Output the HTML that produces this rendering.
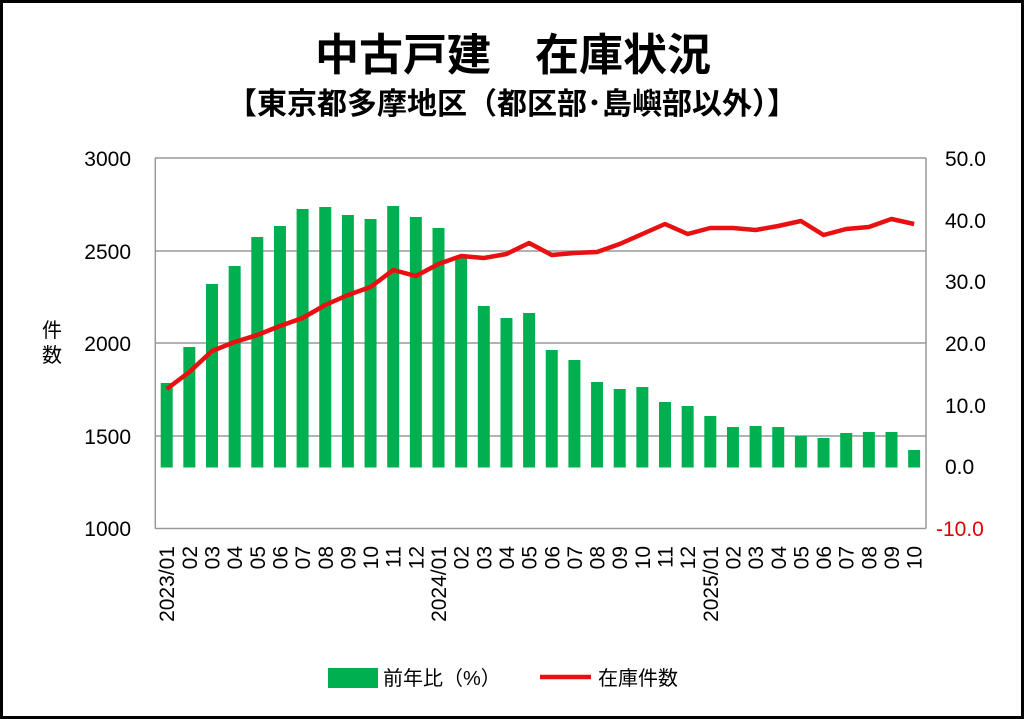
<!DOCTYPE html>
<html><head><meta charset="utf-8"><style>
html,body{margin:0;padding:0;background:#fff}
svg{display:block}
text{font-family:"Liberation Sans","Noto Sans CJK JP",sans-serif}
</style></head><body>
<svg width="1024" height="719" viewBox="0 0 1024 719" xmlns="http://www.w3.org/2000/svg">
<rect x="1.5" y="1.5" width="1021" height="716" fill="#fff" stroke="#000" stroke-width="3"/>
<text x="513" y="70" text-anchor="middle" font-size="44" font-weight="bold" font-family="'Noto Sans CJK JP',sans-serif">中古戸建　在庫状況</text>
<text x="512" y="114" text-anchor="middle" font-size="30" font-weight="bold" font-family="'Noto Sans CJK JP',sans-serif">【東京都多摩地区（都区部･島嶼部以外）】</text>
<g stroke="#999" stroke-width="1.5" fill="none">
<line x1="155" y1="158" x2="926" y2="158"/>
<line x1="155" y1="251" x2="926" y2="251"/>
<line x1="155" y1="343" x2="926" y2="343"/>
<line x1="155" y1="436" x2="926" y2="436"/>
<line x1="155" y1="528.5" x2="926" y2="528.5"/>
<line x1="155.3" y1="158" x2="155.3" y2="528.5"/>
<line x1="926" y1="158" x2="926" y2="528.5"/>
</g>
<g font-size="21" fill="#000" text-anchor="end">
<text x="131" y="166">3000</text><text x="131" y="259">2500</text><text x="131" y="351">2000</text><text x="131" y="444">1500</text><text x="131" y="536">1000</text>
</g>
<g font-size="21" fill="#000">
<text x="945" y="166">50.0</text><text x="945" y="228">40.0</text><text x="945" y="289">30.0</text><text x="945" y="351">20.0</text><text x="945" y="413">10.0</text><text x="945" y="474">0.0</text><text x="936" y="536" fill="#e00000">-10.0</text>
</g>
<text x="52" y="337" text-anchor="middle" font-size="20" font-family="'Noto Sans CJK JP',sans-serif">件</text>
<text x="52" y="362" text-anchor="middle" font-size="20" font-family="'Noto Sans CJK JP',sans-serif">数</text>
<g id="bars" fill="#00b050"></g>
<polyline id="line" fill="none" stroke="#e81010" stroke-width="4.5" stroke-linejoin="round"/>
<g id="labels" font-size="21" fill="#000"></g>
<rect x="328" y="668" width="50" height="20" fill="#00b050"/>
<text x="383" y="685" font-size="20" font-family="'Noto Sans CJK JP',sans-serif">前年比（%）</text>
<line x1="540" y1="677" x2="591" y2="677" stroke="#e81010" stroke-width="4.5"/>
<text x="598" y="685" font-size="20" font-family="'Noto Sans CJK JP',sans-serif">在庫件数</text>
</svg>
<script>
var tops=[383,347,284,266,237,226,209,207,215,219,206,217,228,257,306,318,313,350,360,382,389,387,402,406,416,427,426,427,436,438,433,432,432,450];
var ly=[389,372,351,342,335,326,318,305,295,287,270,276,264,256,258,254,243,255,253,252,244,234,224,234,228,228,230,226,221,235,229,227,219,224];
var ns="http://www.w3.org/2000/svg",b=document.getElementById('bars'),lb=document.getElementById('labels'),pts=[];
var lab=['2023/01','02','03','04','05','06','07','08','09','10','11','12','2024/01','02','03','04','05','06','07','08','09','10','11','12','2025/01','02','03','04','05','06','07','08','09','10'];
for(var i=0;i<34;i++){var cx=166.7+i*22.65;
var r=document.createElementNS(ns,'rect');r.setAttribute('x',cx-6);r.setAttribute('y',tops[i]);r.setAttribute('width',12);r.setAttribute('height',467.5-tops[i]);b.appendChild(r);
pts.push(cx+','+ly[i]);
var t=document.createElementNS(ns,'text');t.setAttribute('transform','translate('+(cx+7.5)+',546) rotate(-90)');t.setAttribute('text-anchor','end');t.textContent=lab[i];lb.appendChild(t);}
document.getElementById('line').setAttribute('points',pts.join(' '));
</script>
</body></html>
